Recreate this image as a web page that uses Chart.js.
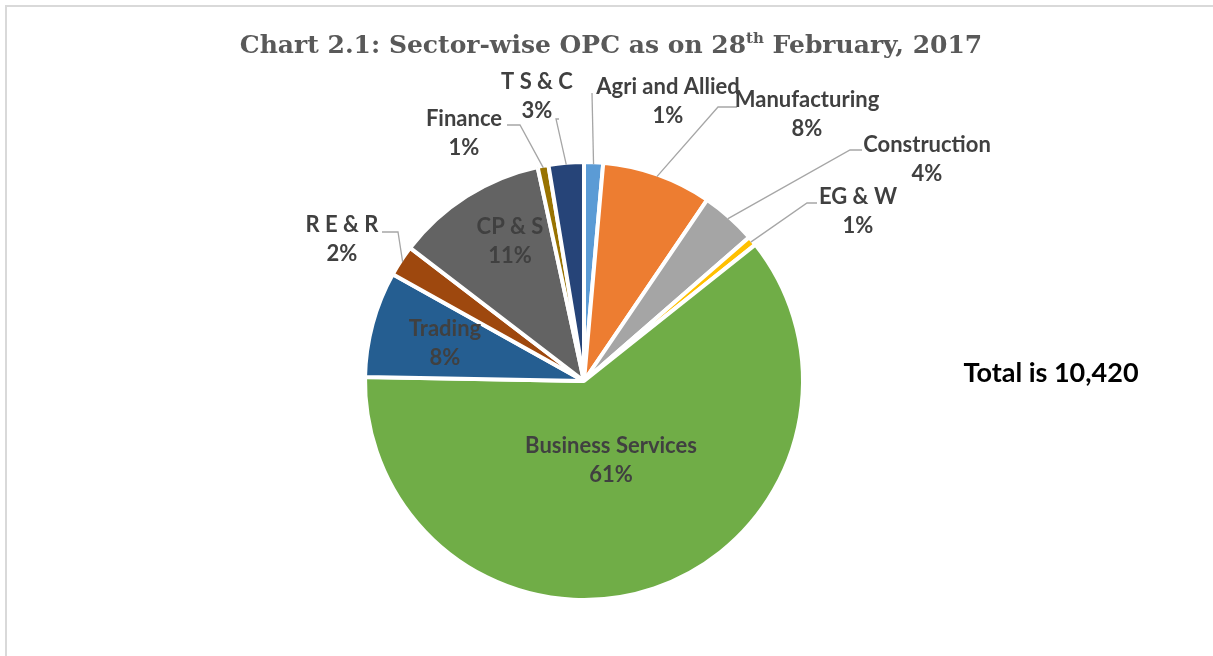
<!DOCTYPE html>
<html><head><meta charset="utf-8">
<script src="https://cdn.jsdelivr.net/npm/chart.js@4.4.1/dist/chart.umd.min.js"></script>
<style>
html,body{margin:0;padding:0;background:#fff;overflow:hidden;}
canvas{display:block;}
</style></head><body>
<canvas id="c" width="1213" height="656"></canvas>
<script>
// ---- data ----
const categories = ["Agri and Allied","Manufacturing","Construction","EG & W","Business Services","Trading","R E & R","CP & S","Finance","T S & C"];
const companies  = [146, 844, 427, 73, 6356, 813, 240, 1167, 83, 271];
const titleMain = "Chart 2.1: Sector-wise OPC as on 28";
const titleSup = "th";
const titleTail = " February, 2017";

// ---- styles ----
const sliceColors = ["#5B9BD5","#ED7D31","#A5A5A5","#FFC000","#70AD47","#255E91","#9E480E","#636363","#997300","#264478"];
// label layout: offsets (px) from the pie centre for the first text baseline, and leader path
const labelLayout = [
  {t:[84,-287],  path:[[8,-288]]},
  {t:[223,-274], path:[[134,-274],[153,-274]]},
  {t:[343,-229], path:[[266,-231],[278,-231]]},
  {t:[274,-177], path:[[223,-178],[233,-178]]},
  {t:[27,72]},
  {t:[-139,-45]},
  {t:[-242,-149], path:[[-186,-149],[-202,-149]]},
  {t:[-74,-147]},
  {t:[-120,-255], path:[[-64,-256],[-77,-256]]},
  {t:[-47,-292], path:[[-28,-262],[-25,-262]]}
];
const LABEL_FONT = "bold 22px Lato";
const LINE_GAP = 29;

const total = companies.reduce((a,b)=>a+b,0);

const framePlugin = {
  id:'frame',
  beforeDraw(chart){
    const ctx = chart.ctx;
    ctx.save();
    ctx.fillStyle = "#ffffff";
    ctx.fillRect(0,0,chart.width,chart.height);
    ctx.strokeStyle = "#d9d9d9";
    ctx.lineWidth = 2;
    ctx.beginPath();
    ctx.moveTo(6, chart.height);
    ctx.lineTo(6, 6);
    ctx.lineTo(chart.width, 6);
    ctx.stroke();
    ctx.restore();
  }
};

const labelPlugin = {
  id:'sliceLabels',
  afterDatasetsDraw(chart){
    const ctx = chart.ctx;
    const arcs = chart.getDatasetMeta(0).data;
    ctx.save();
    arcs.forEach((arc,i)=>{
      const L = labelLayout[i];
      const cx = arc.x, cy = arc.y;
      if (L.path){
        const mid = (arc.startAngle+arc.endAngle)/2;
        const r = arc.outerRadius - 2;
        ctx.beginPath();
        ctx.moveTo(cx + Math.cos(mid)*r, cy + Math.sin(mid)*r);
        L.path.forEach(p=>ctx.lineTo(cx+p[0], cy+p[1]));
        ctx.strokeStyle = "#A6A6A6";
        ctx.lineWidth = 1.3;
        ctx.stroke();
      }
      const pct = Math.round(companies[i]/total*100) + "%";
      ctx.font = LABEL_FONT;
      ctx.fillStyle = "#404040";
      ctx.textAlign = "center";
      ctx.textBaseline = "alphabetic";
      ctx.fillText(categories[i], cx+L.t[0], cy+L.t[1]);
      ctx.fillText(pct, cx+L.t[0], cy+L.t[1]+LINE_GAP);
    });
    ctx.restore();
  }
};

const textPlugin = {
  id:'extraText',
  afterDraw(chart){
    const ctx = chart.ctx;
    ctx.save();
    // title with superscript
    const f1 = "bold 25px 'DejaVu Serif'", f2 = "bold 15px 'DejaVu Serif'";
    ctx.font = f1; const w1 = ctx.measureText(titleMain).width, w3 = ctx.measureText(titleTail).width;
    ctx.font = f2; const w2 = ctx.measureText(titleSup).width;
    let x = 611 - (w1+w2+w3)/2;
    const y = 53;
    ctx.fillStyle = "#595959";
    ctx.textAlign = "left"; ctx.textBaseline = "alphabetic";
    ctx.font = f1; ctx.fillText(titleMain, x, y); x += w1;
    ctx.font = f2; ctx.fillText(titleSup, x, y-10); x += w2;
    ctx.font = f1; ctx.fillText(titleTail, x, y);
    // total
    ctx.font = "bold 27px Lato";
    ctx.fillStyle = "#000000";
    ctx.textAlign = "center";
    ctx.fillText("Total is " + total.toLocaleString('en-US'), 1051, 382);
    ctx.restore();
  }
};

new Chart(document.getElementById('c'), {
  type:'pie',
  data:{labels:categories, datasets:[{data:companies, backgroundColor:sliceColors, borderColor:"#ffffff", borderWidth:4, hoverOffset:0}]},
  options:{
    responsive:false, animation:false, devicePixelRatio:1,
    radius:219,
    layout:{padding:{left:150, right:1213-(2*584-150), top:150, bottom:656-(2*381-150)}},
    plugins:{legend:{display:false}, tooltip:{enabled:false}, title:{display:false}},
    events:[]
  },
  plugins:[framePlugin, labelPlugin, textPlugin]
});
</script>
</body></html>
